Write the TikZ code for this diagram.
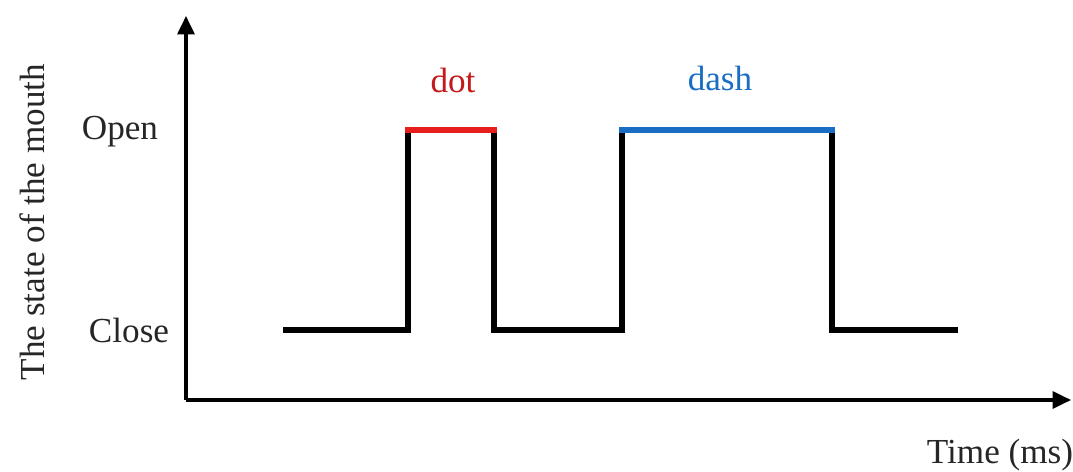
\documentclass[tikz,border=0pt]{standalone}
\usepackage{fontspec}
\setmainfont{Liberation Serif}
\usetikzlibrary{arrows.meta, positioning}
\definecolor{dotred}{RGB}{230,30,30}
\definecolor{dashblue}{RGB}{25,110,195}

\begin{document}
\begin{tikzpicture}[
    x=0.025cm, y=-0.025cm,
    axis/.style={line width=2.2pt, -{Triangle[length=13pt, width=12pt]}},
    signal/.style={line width=3.6pt, line join=miter},
    lbl/.style={font=\fontsize{25}{29}\selectfont, text=black!85, inner sep=0pt},
]
\useasboundingbox (0,0) rectangle (1073,472);

%% Assi
\coordinate (origin) at (186,400);
\coordinate (ytip) at (186,16);
\coordinate (xtip) at (1071,400);
\draw[axis] (origin) -- (ytip);
\draw[axis] (origin) -- (xtip);

%% Etichette degli assi
\node[lbl, rotate=90] (ylabel) at (32,222) {The state of the mouth};
\node[lbl] (xlabel) at (1000,455) {Time (ms)};
\node[lbl] (open) at (120,132) {Open};
\node[lbl] (close) at (129,330) {Close};

%% Segnale
\coordinate (s0) at (283,330);
\coordinate (s1) at (408,330);
\coordinate (s2) at (408,130);
\coordinate (s3) at (494,130);
\coordinate (s4) at (494,330);
\coordinate (s5) at (622,330);
\coordinate (s6) at (622,130);
\coordinate (s7) at (832,130);
\coordinate (s8) at (832,330);
\coordinate (s9) at (958,330);
\draw[signal] (s0) -- (s1) -- (s2) -- (s3) -- (s4) -- (s5) -- (s6) -- (s7) -- (s8) -- (s9);

%% Punto e linea
\draw[signal, dotred, line cap=rect] (s2) -- (s3);
\draw[signal, dashblue, line cap=rect] (s6) -- (s7);
\node[lbl, text=dotred!85!black] (dot) at (453,80) {dot};
\node[lbl, text=dashblue] (dash) at (720,78) {dash};

\end{tikzpicture}
\end{document}
